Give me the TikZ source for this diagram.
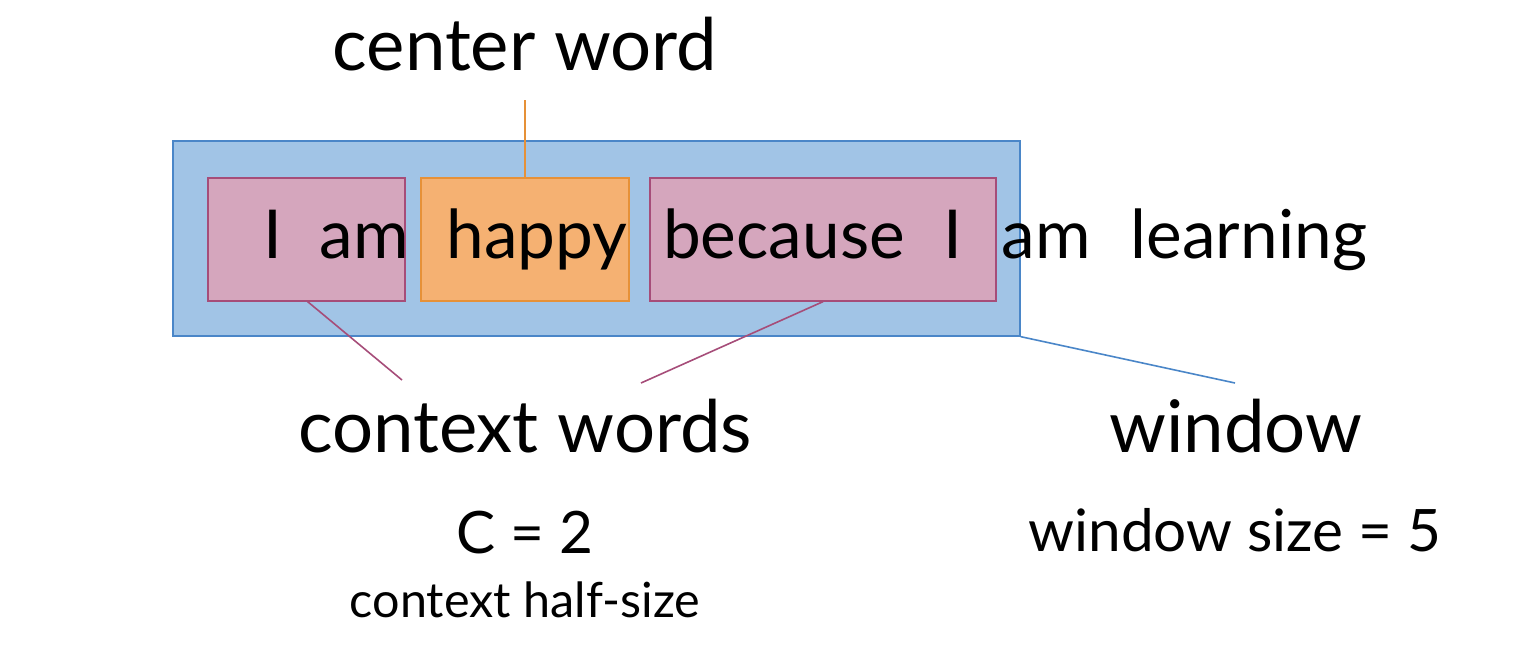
\documentclass[tikz,border=0pt]{standalone}
\usepackage{fontspec}
\setmainfont{Lato}
\begin{document}
\begin{tikzpicture}[x=1pt,y=-1pt,
  winbox/.style={draw=winline,fill=winfill,line width=1.3pt,inner sep=0pt},
  ctxbox/.style={draw=ctxline,fill=ctxfill,line width=1.3pt,inner sep=0pt},
  cenbox/.style={draw=cenline,fill=cenfill,line width=1.3pt,inner sep=0pt},
  word/.style={anchor=base,inner sep=0pt,font=\fontsize{67.5}{70}\selectfont},
  big/.style={anchor=base,inner sep=0pt,font=\fontsize{72.5}{76}\selectfont},
  mid/.style={anchor=base,inner sep=0pt,font=\fontsize{58.5}{62}\selectfont},
  small/.style={anchor=base,inner sep=0pt,font=\fontsize{48.5}{52}\selectfont},
  ctxconn/.style={draw=ctxline,line width=1.6pt},
  cenconn/.style={draw=cenline,line width=1.6pt},
  winconn/.style={draw=winline,line width=1.6pt}]
\definecolor{winfill}{HTML}{A1C4E6}
\definecolor{winline}{HTML}{4A86C8}
\definecolor{ctxfill}{HTML}{D5A6BD}
\definecolor{ctxline}{HTML}{A64D79}
\definecolor{cenfill}{HTML}{F5B172}
\definecolor{cenline}{HTML}{E69138}
\useasboundingbox (0,0) rectangle (1514,656);
\node[winbox,minimum width=847pt,minimum height=195pt] (win) at (596.5,238.5) {};
\node[ctxbox,minimum width=197pt,minimum height=123pt] (ctxL) at (306.5,239.5) {};
\node[cenbox,minimum width=208pt,minimum height=123pt] (cen) at (525,239.5) {};
\node[ctxbox,minimum width=346pt,minimum height=123pt] (ctxR) at (823,239.5) {};
\node[word] (w1) at (273,258) {I};
\node[word] (w2) at (364,258) {am};
\node[word] (w3) at (537,258) {happy};
\node[word] (w4) at (784,258) {because};
\node[word] (w5) at (953,258) {I};
\node[word] (w6) at (1046,258) {am};
\node[word] (w7) at (1249,258) {learning};
\node[big] (lcen) at (525,70) {center word};
\node[big] (lctx) at (525,452) {context words};
\node[big] (lwin) at (1236,452) {window};
\node[mid] (lc) at (525,553) {C = 2};
\node[small] (lhalf) at (525,617) {context half-size};
\node[mid] (lsize) at (1235,551) {window size = 5};
\coordinate (pc) at (525,100);
\coordinate (p1) at (402,380);
\coordinate (p2) at (641,383);
\coordinate (p3) at (1235,383);
\draw[cenconn] (pc) -- (cen.north);
\draw[ctxconn] ([xshift=-98pt]ctxL.south east) -- (p1);
\draw[ctxconn] (ctxR.south) -- (p2);
\draw[winconn] (win.south east) -- (p3);
\end{tikzpicture}
\end{document}
